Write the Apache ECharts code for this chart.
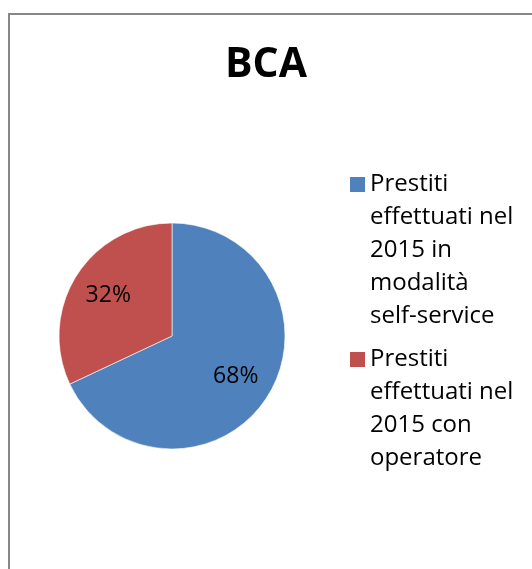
<!DOCTYPE html>
<html>
<head>
<meta charset="utf-8">
<script src="https://cdn.jsdelivr.net/npm/echarts@6/dist/echarts.min.js"></script>
<style>
  html, body { margin: 0; padding: 0; background: #fff; overflow: hidden; }
  #frame { position: absolute; left: 8px; top: 13px; width: 700px; height: 700px; border: 2px solid #878787; }
  #main { position: absolute; left: 0; top: 0; width: 532px; height: 569px; }
</style>
</head>
<body>
<div id="frame"></div>
<div id="main"></div>
<script>
// dati del grafico
const categorie = [
  'Prestiti effettuati nel 2015 in modalità self-service',
  'Prestiti effettuati nel 2015 con operatore'
];
const valori = [68, 32];
const colori = ['#4F81BD', '#C0504D'];

const pieData = categorie.map(function (nome, i) {
  return { name: nome, value: valori[i], itemStyle: { color: colori[i] } };
});

// la legenda di echarts centra il simbolo sul testo a più righe:
// uso un'icona alta quanto il testo con il quadratino in cima
const righe = [5, 4];
const riga = 33;
function iconaAlta (n) {
  const h = n * riga;
  return 'path://M0,0L15,0M0,9L15,9L15,24L0,24ZM0,' + h + 'L15,' + h;
}

function legenda (i, top) {
  return {
    orient: 'vertical',
    left: 350,
    top: top,
    padding: 0,
    itemWidth: 15,
    itemHeight: righe[i] * riga,
    icon: iconaAlta(righe[i]),
    itemStyle: { borderWidth: 0 },
    data: [categorie[i]],
    textStyle: {
      fontFamily: 'Open Sans',
      fontSize: 24,
      color: '#000',
      lineHeight: riga,
      width: 150,
      overflow: 'break'
    }
  };
}

const chart = echarts.init(document.getElementById('main'), null, { renderer: 'canvas' });

const option = {
  animation: false,
  title: {
    text: 'BCA',
    left: 'center',
    top: 40,
    textStyle: {
      fontFamily: 'Open Sans',
      fontWeight: 'bold',
      fontSize: 41,
      color: '#000'
    }
  },
  legend: [legenda(0, 168), legenda(1, 343)],
  series: [
    {
      type: 'pie',
      center: [172, 336],
      radius: 113,
      startAngle: 90,
      clockwise: true,
      silent: true,
      label: { show: false },
      labelLine: { show: false },
      itemStyle: { borderColor: '#fff', borderWidth: 0.6 },
      data: pieData
    },
    {
      // solo per posizionare le etichette percentuali
      type: 'pie',
      center: [172, 336],
      radius: [32, 113],
      startAngle: 90,
      clockwise: true,
      silent: true,
      itemStyle: { color: 'rgba(0,0,0,0)' },
      label: {
        show: true,
        position: 'inside',
        formatter: '{d}%',
        fontFamily: 'Open Sans',
        fontSize: 23,
        color: '#000'
      },
      labelLine: { show: false },
      data: categorie.map(function (nome, i) {
        return { name: nome, value: valori[i] };
      })
    }
  ]
};

chart.setOption(option);
</script>
</body>
</html>
